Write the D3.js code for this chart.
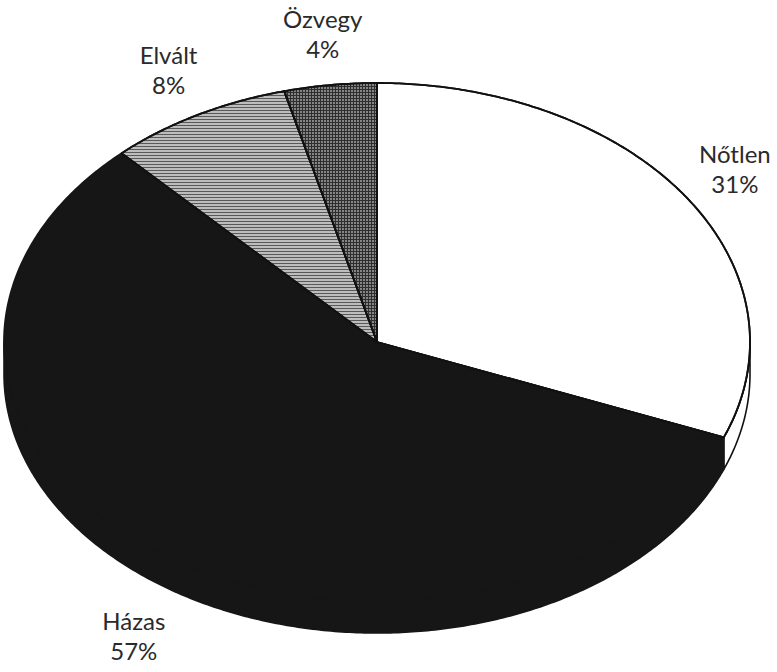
<!DOCTYPE html>
<html>
<head>
<meta charset="utf-8">
<script src="https://cdn.jsdelivr.net/npm/d3@7"></script>
<style>
  body { margin: 0; background: #fff; }
  text { font-family: Lato, "Open Sans", sans-serif; font-size: 24px; fill: #2a2a2a; }
</style>
</head>
<body>
<script>
// marital status shares
var categories = ["Nőtlen", "Házas", "Elvált", "Özvegy"];
var values = [31, 57, 8, 4];
var fills = ["#ffffff", "#161616", "url(#hatch)", "url(#grid)"];

var width = 777, height = 672;
var cx = 377, cy = 342, rx = 373, ry = 259, depth = 32;
var labelKx = 1.16, labelKy = 1.21;

var svg = d3.select("body").append("svg")
    .attr("width", width)
    .attr("height", height);

var defs = svg.append("defs");

// light grey horizontal hatching
var hatch = defs.append("pattern")
    .attr("id", "hatch")
    .attr("patternUnits", "userSpaceOnUse")
    .attr("width", 6).attr("height", 3);
hatch.append("rect").attr("width", 6).attr("height", 3).attr("fill", "#bdbdbd");
hatch.append("rect").attr("y", 2).attr("width", 6).attr("height", 1).attr("fill", "#595959");

// dark grey grid
var grid = defs.append("pattern")
    .attr("id", "grid")
    .attr("patternUnits", "userSpaceOnUse")
    .attr("width", 3).attr("height", 3);
grid.append("rect").attr("width", 3).attr("height", 3).attr("fill", "#2e2e2e");
grid.append("rect").attr("width", 2).attr("height", 2).attr("fill", "#858585");

var pie = d3.pie().sort(null).value(function(d) { return d; });
var arcs = pie(values);

function px(a, k) { return cx + (k || 1) * rx * Math.sin(a); }
function py(a, k) { return cy - (k || 1) * ry * Math.cos(a); }

function angles(a0, a1) {
  var n = Math.max(2, Math.ceil((a1 - a0) / 0.01));
  return d3.range(n + 1).map(function(i) { return a0 + (a1 - a0) * i / n; });
}

var line = d3.line();

// side walls (only the front half, between 90 and 270 degrees)
var side = svg.append("g");
arcs.forEach(function(d, i) {
  var a0 = Math.max(d.startAngle, Math.PI / 2),
      a1 = Math.min(d.endAngle, Math.PI * 3 / 2);
  if (a1 <= a0) return;
  var top = angles(a0, a1).map(function(a) { return [px(a), py(a)]; });
  var bottom = angles(a0, a1).reverse().map(function(a) { return [px(a), py(a) + depth]; });
  var dark = i === 1;
  side.append("path")
      .attr("d", line(top.concat(bottom)) + "Z")
      .attr("fill", dark ? fills[1] : "#fff")
      .attr("stroke", dark ? fills[1] : "#111")
      .attr("stroke-width", 1.6)
      .attr("stroke-linejoin", "round");
});

// top faces
var faces = svg.append("g");
faces.selectAll("path")
    .data(arcs)
    .enter().append("path")
    .attr("d", function(d) {
      var pts = [[cx, cy]].concat(angles(d.startAngle, d.endAngle).map(function(a) { return [px(a), py(a)]; }));
      return line(pts) + "Z";
    })
    .attr("fill", function(d, i) { return fills[i]; })
    .attr("stroke", function(d, i) { return i === 1 ? fills[1] : "#111"; })
    .attr("stroke-width", 1.8)
    .attr("stroke-linejoin", "round");

// boundary lines that sit on the black slice
faces.selectAll("path.edge")
    .data(arcs.filter(function(d, i) { return i !== 1; }))
    .enter().append("path")
    .attr("class", "edge")
    .attr("d", function(d) {
      var pts = [[cx, cy]].concat(angles(d.startAngle, d.endAngle).map(function(a) { return [px(a), py(a)]; }));
      return line(pts) + "Z";
    })
    .attr("fill", "none")
    .attr("stroke", "#111")
    .attr("stroke-width", 1.8)
    .attr("stroke-linejoin", "round");

// labels
var labels = svg.append("g");
arcs.forEach(function(d, i) {
  var mid = (d.startAngle + d.endAngle) / 2;
  var x = px(mid, labelKx),
      y = cy - labelKy * ry * Math.cos(mid) + (Math.cos(mid) < 0 ? depth : 0);
  var t = labels.append("text").attr("text-anchor", "middle");
  t.append("tspan").attr("x", x).attr("y", y - 3).text(categories[i]);
  t.append("tspan").attr("x", x).attr("y", y + 27).text(values[i] + "%");
});
</script>
</body>
</html>
